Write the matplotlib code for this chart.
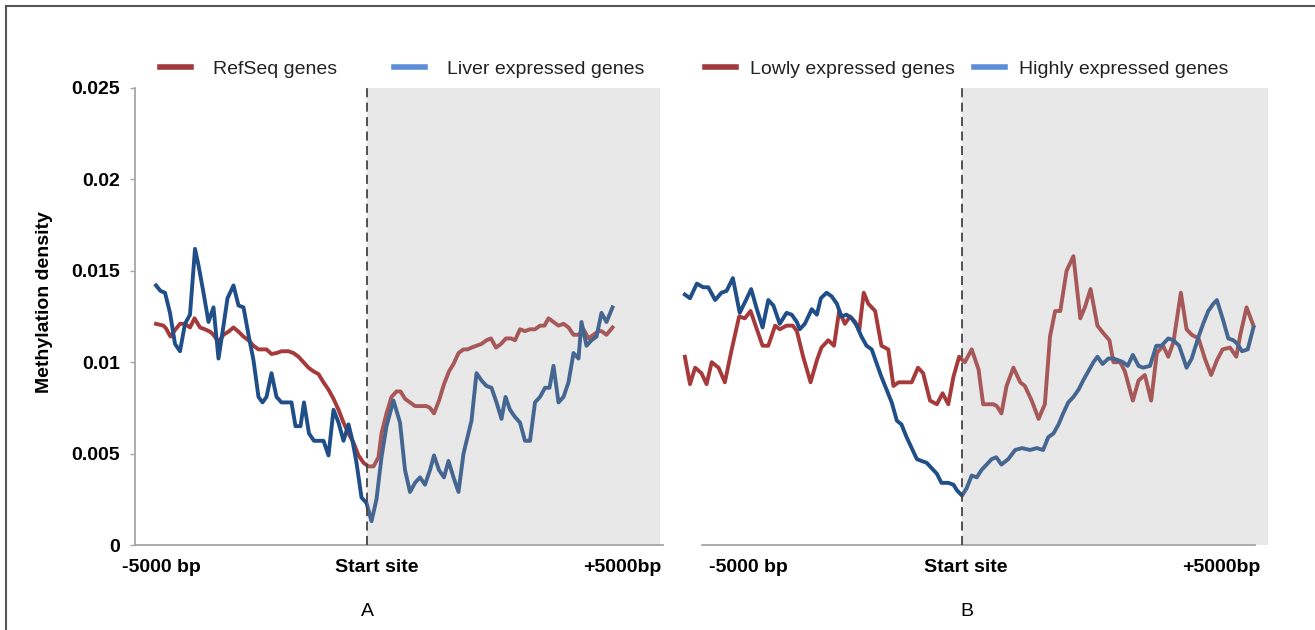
import matplotlib
matplotlib.use('Agg')
import matplotlib.pyplot as plt
from matplotlib.lines import Line2D

plt.rcParams['font.family'] = ['Liberation Sans', 'DejaVu Sans']

# ----------------------------------------
# Methylation density around the transcription start site (bp offsets)
# ----------------------------------------
# Panel A: RefSeq genes vs liver expressed genes
a_refseq_pos = [-4220, -4070, -4020, -3930, -3840, -3740, -3640, -3540, -3450, -3340,
                -3240, -3140, -3070, -2970, -2870, -2770, -2670, -2570, -2470, -2370,
                -2270, -2170, -2010, -1910, -1810, -1710, -1570, -1470, -1370, -1270,
                -1170, -1070, -970, -870, -770, -670, -570, -470, -370, -270,
                -170, -70, 30, 130, 230, 290, 390, 490, 590, 670,
                760, 860, 960, 1060, 1190, 1260, 1340, 1440, 1540, 1640,
                1730, 1830, 1930, 2010, 2090, 2190, 2290, 2390, 2480, 2580,
                2680, 2780, 2880, 2960, 3060, 3160, 3260, 3360, 3460, 3550,
                3630, 3730, 3830, 3930, 4030, 4130, 4230, 4330, 4430, 4530,
                4630, 4690, 4790, 4910]
a_refseq = [0.0121, 0.0120, 0.01185, 0.0114, 0.01176, 0.0121, 0.0121, 0.0119, 0.0124, 0.0119,
            0.0118, 0.01167, 0.0115, 0.0111, 0.0115, 0.01167, 0.0119, 0.01167, 0.0114, 0.0112,
            0.0109, 0.0107, 0.0107, 0.01045, 0.0105, 0.0106, 0.0106, 0.0105, 0.0103, 0.0100,
            0.0097, 0.0095, 0.00935, 0.0089, 0.0085, 0.0080, 0.0074, 0.0067, 0.0061, 0.0056,
            0.0049, 0.0045, 0.0043, 0.0043, 0.0048, 0.0061, 0.0072, 0.0081, 0.0084, 0.0084,
            0.0080, 0.0078, 0.0076, 0.0076, 0.0076, 0.0075, 0.0072, 0.0079, 0.0088, 0.0095,
            0.0099, 0.0105, 0.0107, 0.0107, 0.0108, 0.0109, 0.0110, 0.0112, 0.0113, 0.0108,
            0.0110, 0.0113, 0.0113, 0.0112, 0.0118, 0.0117, 0.0118, 0.0118, 0.0120, 0.0120,
            0.0124, 0.0122, 0.0120, 0.0121, 0.0119, 0.0115, 0.0115, 0.0118, 0.0113, 0.0115,
            0.0117, 0.0117, 0.0115, 0.0119]

a_liver_pos = [-4220, -4130, -4040, -3940, -3840, -3740, -3640, -3540, -3440, -3370,
               -3270, -3170, -3070, -2970, -2870, -2790, -2670, -2570, -2470, -2370,
               -2270, -2170, -2090, -2010, -1910, -1810, -1710, -1510, -1430, -1330,
               -1260, -1160, -1060, -870, -770, -670, -570, -470, -370, -290,
               -210, -110, -10, 90, 190, 290, 390, 530, 660, 760,
               860, 960, 1060, 1160, 1260, 1340, 1440, 1540, 1630, 1730,
               1830, 1930, 2010, 2090, 2190, 2290, 2390, 2490, 2590, 2690,
               2770, 2860, 2960, 3060, 3160, 3260, 3360, 3460, 3560, 3650,
               3730, 3830, 3930, 4030, 4130, 4230, 4290, 4390, 4490, 4590,
               4690, 4790, 4910]
a_liver = [0.0142, 0.0139, 0.0138, 0.0127, 0.0110, 0.0106, 0.0121, 0.0126, 0.0162, 0.0153,
           0.0138, 0.0122, 0.0130, 0.0102, 0.0120, 0.0135, 0.0142, 0.0131, 0.0130, 0.0115,
           0.0101, 0.0081, 0.0078, 0.0081, 0.0094, 0.0081, 0.0078, 0.0078, 0.0065, 0.0065,
           0.0078, 0.0061, 0.0057, 0.0057, 0.0049, 0.0074, 0.0067, 0.0057, 0.0066, 0.0057,
           0.0045, 0.0026, 0.0023, 0.0013, 0.0025, 0.0048, 0.0065, 0.0079, 0.0067, 0.0041,
           0.0029, 0.0034, 0.0037, 0.0033, 0.0041, 0.0049, 0.0041, 0.0037, 0.0046, 0.0037,
           0.0029, 0.0050, 0.0059, 0.0068, 0.0094, 0.0090, 0.0087, 0.0086, 0.0078, 0.0069,
           0.0081, 0.0074, 0.0070, 0.0067, 0.0057, 0.0057, 0.0078, 0.0081, 0.0086, 0.0086,
           0.0098, 0.0078, 0.0081, 0.0089, 0.0105, 0.0102, 0.0122, 0.0109, 0.0112, 0.0114,
           0.0127, 0.0122, 0.0130]

# Panel B: lowly vs highly expressed genes
b_low_pos = [-4850, -4760, -4670, -4560, -4470, -4380, -4260, -4150, -4030, -3900,
             -3800, -3700, -3590, -3490, -3390, -3270, -3190, -3070, -2960, -2890,
             -2780, -2650, -2540, -2460, -2340, -2240, -2150, -2050, -1960, -1870,
             -1800, -1720, -1640, -1520, -1410, -1290, -1200, -1110, -1030, -880,
             -770, -680, -560, -440, -340, -240, -150, -50, 50, 170,
             290, 370, 550, 610, 690, 780, 900, 1020, 1100, 1220,
             1340, 1450, 1540, 1630, 1720, 1830, 1950, 2070, 2150, 2250,
             2370, 2470, 2580, 2650, 2770, 2850, 2990, 3090, 3200, 3310,
             3410, 3520, 3610, 3700, 3830, 3930, 4020, 4140, 4250, 4360,
             4460, 4560, 4690, 4800, 4870, 4980, 5100]
b_low = [0.0103, 0.0088, 0.0097, 0.0094, 0.0088, 0.0100, 0.0097, 0.0089, 0.0107, 0.0125,
         0.0124, 0.0128, 0.0118, 0.0109, 0.0109, 0.0120, 0.0118, 0.0120, 0.0120, 0.0117,
         0.0103, 0.0089, 0.0101, 0.0108, 0.0112, 0.0109, 0.0128, 0.0121, 0.0125, 0.0122,
         0.0117, 0.0138, 0.0132, 0.0128, 0.0109, 0.0107, 0.0087, 0.0089, 0.0089, 0.0089,
         0.0097, 0.0094, 0.0079, 0.0077, 0.0083, 0.0077, 0.0092, 0.0103, 0.0100, 0.0107,
         0.0096, 0.0077, 0.0077, 0.0076, 0.0072, 0.0087, 0.0097, 0.0089, 0.0087, 0.0079,
         0.0069, 0.0077, 0.0114, 0.0128, 0.0128, 0.0150, 0.0158, 0.0124, 0.0130, 0.0140,
         0.0120, 0.0116, 0.0112, 0.0100, 0.0100, 0.0095, 0.0079, 0.0090, 0.0093, 0.0079,
         0.0105, 0.0109, 0.0103, 0.0111, 0.0138, 0.0118, 0.0115, 0.0113, 0.0102, 0.0093,
         0.0101, 0.0107, 0.0108, 0.0103, 0.0115, 0.0130, 0.0120]

b_high_pos = [-4850, -4760, -4640, -4530, -4440, -4320, -4210, -4120, -4010, -3890,
              -3780, -3690, -3590, -3490, -3390, -3300, -3190, -3070, -2980, -2890,
              -2840, -2750, -2630, -2540, -2470, -2370, -2280, -2190, -2110, -2020,
              -1930, -1840, -1760, -1670, -1580, -1490, -1410, -1320, -1230, -1140,
              -1060, -970, -880, -790, -710, -620, -530, -440, -360, -240,
              -150, -90, 0, 80, 170, 260, 340, 430, 520, 600,
              690, 810, 930, 1050, 1190, 1310, 1420, 1510, 1600, 1690,
              1770, 1860, 1950, 2040, 2120, 2210, 2300, 2370, 2460, 2560,
              2650, 2740, 2820, 2900, 2990, 3090, 3170, 3290, 3400, 3490,
              3610, 3700, 3800, 3930, 4020, 4140, 4220, 4310, 4400, 4460,
              4570, 4660, 4750, 4820, 4900, 5000, 5100]
b_high = [0.0137, 0.0135, 0.0143, 0.0141, 0.0141, 0.0134, 0.0138, 0.0139, 0.0146, 0.0127,
          0.0134, 0.0140, 0.0129, 0.0119, 0.0134, 0.0131, 0.0121, 0.0127, 0.0126, 0.0122,
          0.0118, 0.0121, 0.0129, 0.0126, 0.0135, 0.0138, 0.0136, 0.0132, 0.0125, 0.0126,
          0.0124, 0.0120, 0.0114, 0.0109, 0.0107, 0.0099, 0.0092, 0.0085, 0.0078, 0.0068,
          0.0066, 0.0059, 0.0053, 0.0047, 0.0046, 0.0045, 0.0042, 0.0039, 0.0034, 0.0034,
          0.0033, 0.0030, 0.0027, 0.0031, 0.0038, 0.0037, 0.0041, 0.0044, 0.0047, 0.0048,
          0.0044, 0.0047, 0.0052, 0.0053, 0.0052, 0.0053, 0.0052, 0.0059, 0.0061, 0.0066,
          0.0072, 0.0078, 0.0081, 0.0085, 0.0090, 0.0095, 0.0100, 0.0103, 0.0099, 0.0102,
          0.0102, 0.0101, 0.0100, 0.0098, 0.0104, 0.0098, 0.0097, 0.0098, 0.0109, 0.0109,
          0.0113, 0.0112, 0.0109, 0.0097, 0.0102, 0.0114, 0.0121, 0.0128, 0.0132, 0.0134,
          0.0123, 0.0113, 0.0112, 0.0110, 0.0106, 0.0107, 0.0119]

y_ticks = [0, 0.005, 0.01, 0.015, 0.02, 0.025]
y_tick_labels = ['0', '0.005', '0.01', '0.015', '0.02', '0.025']
x_tick_labels = ['-5000 bp', 'Start site', '+5000bp']
legend_a = ['RefSeq genes', 'Liver expressed genes']
legend_b = ['Lowly expressed genes', 'Highly expressed genes']

RED = '#A63A3A'
BLUE = '#1F4E89'
RED_KEY = '#A0393B'
BLUE_KEY = '#5B8ED6'
AXIS_GREY = '#A6A6A6'

W, H = 1315, 630
fig = plt.figure(figsize=(W / 100, H / 100), dpi=100)

def px_box(x0, x1, y0, y1):
    return [x0 / W, 1 - y1 / H, (x1 - x0) / W, (y1 - y0) / H]

axA = fig.add_axes(px_box(135, 663, 88, 545))
axB = fig.add_axes(px_box(680, 1268, 88, 545))

for ax in (axA, axB):
    ax.set_ylim(0, 0.025)
    for s in ('top', 'right'):
        ax.spines[s].set_visible(False)
    ax.spines['bottom'].set_color(AXIS_GREY)
    ax.spines['bottom'].set_linewidth(1.3)
    ax.spines['left'].set_color(AXIS_GREY)
    ax.spines['left'].set_linewidth(1.3)
    ax.tick_params(axis='x', length=0, pad=10, labelsize=14)
    ax.tick_params(axis='y', length=3.6, width=1, color=AXIS_GREY, pad=7, labelsize=14,
                   direction='out')

# ---- Panel A ----
axA.set_xlim(-4640, 5920)
axA.plot(a_refseq_pos, a_refseq, color=RED, lw=2.8, solid_joinstyle='round', zorder=2)
axA.plot(a_liver_pos, a_liver, color=BLUE, lw=2.8, solid_joinstyle='round', zorder=2)
axA.axvspan(0, 5860, color='#AAAAAA', alpha=0.27, lw=0, zorder=3)
axA.axvline(0, color='#444444', lw=1.3, ls=(0, (5, 3)), zorder=4)
axA.set_yticks(y_ticks)
axA.set_yticklabels(y_tick_labels, fontweight='bold')
axA.set_xticks([-4120, 200, 5100])
axA.set_xticklabels(x_tick_labels, fontweight='bold')
axA.set_ylabel('Methylation density', fontsize=14, fontweight='bold')
axA.yaxis.set_label_coords(-0.155, 0.532)

# ---- Panel B ----
axB.set_xlim(-4935, 5355)
axB.plot(b_low_pos, b_low, color=RED, lw=2.8, solid_joinstyle='round', zorder=2)
axB.plot(b_high_pos, b_high, color=BLUE, lw=2.8, solid_joinstyle='round', zorder=2)
axB.axvspan(0, 5355, color='#AAAAAA', alpha=0.27, lw=0, zorder=3)
axB.axvline(0, color='#444444', lw=1.3, ls=(0, (5, 3)), zorder=4)
axB.spines['left'].set_visible(False)
axB.spines['bottom'].set_bounds(-4550, 5128)
axB.set_yticks([])
axB.set_xticks([-3745, 70, 4532])
axB.set_xticklabels(x_tick_labels, fontweight='bold')

# legends above each panel
def key(c):
    return Line2D([], [], color=c, lw=4)

legA = fig.legend([key(RED_KEY), key(BLUE_KEY)], legend_a, ncol=2, frameon=False,
                  loc='center left', bbox_to_anchor=(160 / W, 1 - 69 / H),
                  borderpad=0, borderaxespad=0, handlelength=1.6, handletextpad=1.15,
                  columnspacing=2.9, prop={'size': 14})
legB = fig.legend([key(RED_KEY), key(BLUE_KEY)], legend_b, ncol=2, frameon=False,
                  loc='center left', bbox_to_anchor=(705 / W, 1 - 69 / H),
                  borderpad=0, borderaxespad=0, handlelength=1.6, handletextpad=0.7,
                  columnspacing=1.0, prop={'size': 14})
for leg in (legA, legB):
    for t in leg.get_texts():
        t.set_color('#222222')

fig.text(367 / W, 1 - 611 / H, 'A', ha='center', va='center', fontsize=14)
fig.text(967 / W, 1 - 611 / H, 'B', ha='center', va='center', fontsize=14)

# outer frame (top and left edges)
fig.add_artist(Line2D([6 / W, 1], [1 - 6 / H, 1 - 6 / H], color='#555555', lw=1.5,
                      transform=fig.transFigure))
fig.add_artist(Line2D([6 / W, 6 / W], [0, 1 - 6 / H], color='#555555', lw=1.5,
                      transform=fig.transFigure))

fig.savefig('out.png', dpi=100)
